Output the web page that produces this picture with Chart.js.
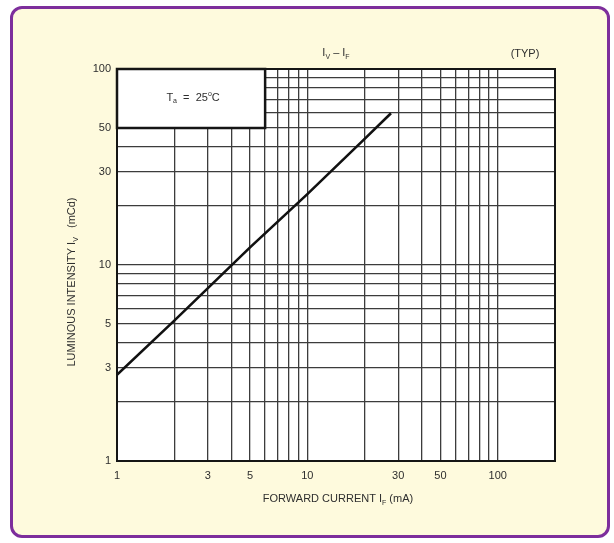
<!DOCTYPE html>
<html>
<head>
<meta charset="utf-8">
<script src="https://cdn.jsdelivr.net/npm/chart.js@4.4.0/dist/chart.umd.min.js"></script>
<style>
    html, body { margin: 0; padding: 0; background: #fff; }
    #frame {
        position: absolute; left: 10px; top: 6px;
        width: 594px; height: 526px;
        border: 3.5px solid #7d2e9c; border-radius: 12px;
        background: #fefadd;
    }
    #wrap { position: absolute; left: 0; top: 0; width: 614px; height: 543px; }
</style>
</head>
<body>
<div id="frame"></div>
<div id="wrap"><canvas id="chart" width="614" height="543"></canvas></div>
<script>
// Iv - If curve (typical)
const currentMA = [1, 2, 5, 10, 20, 27.5];
const intensityMcd = [2.75, 5.2, 12.3, 23, 44, 59.5];

// Axis ranges and labels
const xRange = [1, 200];
const yRange = [1, 100];
const xTickLabels = [1, 3, 5, 10, 30, 50, 100];
const yTickLabels = [1, 3, 5, 10, 30, 50, 100];
const xGridValues = [1, 2, 3, 4, 5, 6, 7, 8, 9, 10, 20, 30, 40, 50, 60, 70, 80, 90, 100];
const yGridValues = [1, 2, 3, 4, 5, 6, 7, 8, 9, 10, 20, 30, 40, 50, 60, 70, 80, 90, 100];

// Condition note box (data units)
const noteBoxX = [1, 6];
const noteBoxY = [50, 100];

const FONT = "'Liberation Sans', Arial, sans-serif";
const TEXT_COLOR = '#2e2e2e';
const GRID_COLOR = '#3c3c3c';

// draw text made of normal / subscript / superscript parts
function drawParts(ctx, parts, x, y, size) {
    const fontFor = p => (p.sub || p.sup ? Math.round(size * 0.65) : size) + 'px ' + FONT;
    let total = 0;
    parts.forEach(p => { ctx.font = fontFor(p); total += ctx.measureText(p.t).width; });
    let cx = x - total / 2;
    ctx.textAlign = 'left';
    ctx.textBaseline = 'middle';
    parts.forEach(p => {
        ctx.font = fontFor(p);
        const dy = p.sub ? size * 0.35 : (p.sup ? -size * 0.35 : 0);
        ctx.fillText(p.t, cx, y + dy);
        cx += ctx.measureText(p.t).width;
    });
}

const decorPlugin = {
    id: 'decor',
    beforeDraw(chart) {
        const { ctx, chartArea: a } = chart;
        ctx.save();
        ctx.fillStyle = '#ffffff';
        ctx.fillRect(a.left, a.top, a.right - a.left, a.bottom - a.top);
        ctx.restore();
    },
    beforeDatasetsDraw(chart) {
        const { ctx, scales } = chart;
        const l = scales.x.getPixelForValue(noteBoxX[0]);
        const r = scales.x.getPixelForValue(noteBoxX[1]);
        const t = scales.y.getPixelForValue(noteBoxY[1]);
        const b = scales.y.getPixelForValue(noteBoxY[0]);
        ctx.save();
        ctx.fillStyle = '#ffffff';
        ctx.fillRect(l, t, r - l, b - t);
        ctx.strokeStyle = '#151515';
        ctx.lineWidth = 2.5;
        ctx.strokeRect(l, t, r - l, b - t);
        ctx.fillStyle = TEXT_COLOR;
        drawParts(ctx, [
            { t: 'T' }, { t: 'a', sub: true }, { t: '  =  25' }, { t: 'o', sup: true }, { t: 'C' }
        ], (l + r) / 2 + 2, (t + b) / 2 - 1, 11);
        ctx.restore();
    },
    afterDraw(chart) {
        const { ctx, chartArea: a } = chart;
        ctx.save();
        ctx.strokeStyle = '#151515';
        ctx.lineWidth = 2;
        ctx.strokeRect(a.left, a.top, a.right - a.left, a.bottom - a.top);

        ctx.fillStyle = TEXT_COLOR;
        drawParts(ctx, [{ t: 'I' }, { t: 'V', sub: true }, { t: ' \u2013 I' }, { t: 'F', sub: true }], 336, 53, 11);
        drawParts(ctx, [{ t: '(TYP)' }], 525, 54, 11);
        drawParts(ctx, [{ t: 'FORWARD CURRENT I' }, { t: 'F', sub: true }, { t: ' (mA)' }], 338, 499, 11);

        ctx.translate(72, 282);
        ctx.rotate(-Math.PI / 2);
        drawParts(ctx, [{ t: 'LUMINOUS INTENSITY I' }, { t: 'V', sub: true }, { t: '   (mCd)' }], 0, 0, 11);
        ctx.restore();
    }
};

new Chart(document.getElementById('chart').getContext('2d'), {
    type: 'line',
    data: {
        datasets: [{
            data: currentMA.map((x, i) => ({ x: x, y: intensityMcd[i] })),
            borderColor: '#111111',
            borderWidth: 2.6,
            pointRadius: 0,
            fill: false,
            tension: 0
        }]
    },
    options: {
        responsive: false,
        animation: false,
        layout: { padding: { left: 17, right: 59, top: 69, bottom: 52 } },
        plugins: { legend: { display: false }, tooltip: { enabled: false } },
        scales: {
            x: {
                type: 'logarithmic',
                min: xRange[0],
                max: xRange[1],
                afterBuildTicks: s => { s.ticks = xGridValues.map(v => ({ value: v })); },
                afterFit: s => { s.height = 30; },
                grid: { color: GRID_COLOR, lineWidth: 1.3, drawTicks: false },
                border: { display: false },
                ticks: {
                    autoSkip: false,
                    maxRotation: 0,
                    padding: 8,
                    color: TEXT_COLOR,
                    font: { family: FONT, size: 11 },
                    callback: v => xTickLabels.includes(v) ? String(v) : ''
                }
            },
            y: {
                type: 'logarithmic',
                min: yRange[0],
                max: yRange[1],
                afterBuildTicks: s => { s.ticks = yGridValues.map(v => ({ value: v })); },
                afterFit: s => { s.width = 100; },
                grid: { color: GRID_COLOR, lineWidth: 1.3, drawTicks: false },
                border: { display: false },
                ticks: {
                    autoSkip: false,
                    padding: 6,
                    color: TEXT_COLOR,
                    font: { family: FONT, size: 11 },
                    callback: v => yTickLabels.includes(v) ? String(v) : ''
                }
            }
        }
    },
    plugins: [decorPlugin]
});
</script>
</body>
</html>
